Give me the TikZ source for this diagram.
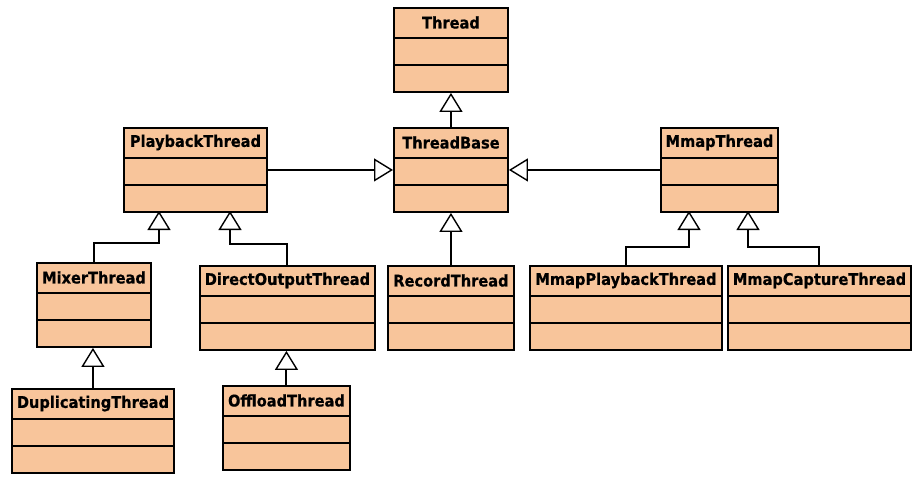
\documentclass[tikz,border=0pt]{standalone}
\usepackage{fontspec}
\setmainfont{DejaVu Sans}
\newfontfamily\hdrfont{DejaVu Sans Bold}[FakeBold=0.6]
\usetikzlibrary{arrows.meta,calc}
\definecolor{classfill}{HTML}{F8C59B}
\tikzset{
  classbox/.style={draw=black, fill=classfill, line width=1.9pt, rectangle, inner sep=0pt, anchor=north west, minimum height=84pt},
  classname/.style={font=\hdrfont\fontsize{14.6pt}{16pt}\selectfont, inner sep=0pt, anchor=center},
  divider/.style={draw=black, line width=1.5pt},
  inh/.style={draw=black, line width=2pt, -{Triangle[length=19pt, width=23pt, fill=white, line width=1.4pt]}},
}
\newcommand{\umlbox}[5]{%
  \node[classbox, minimum width=#4pt] (#1) at (#2,#3) {};
  \node[classname] (#1-name) at ($(#1.north)+(0pt,-15.5pt)$) {\scalebox{1}[1.1]{#5}};
  \draw[divider] ($(#1.north west)+(0pt,-31pt)$) -- ($(#1.north east)+(0pt,-31pt)$);
  \draw[divider] ($(#1.north west)+(0pt,-58pt)$) -- ($(#1.north east)+(0pt,-58pt)$);
}
\begin{document}
\begin{tikzpicture}[x=1pt, y=-1pt]
\useasboundingbox (0,0) rectangle (920,483);
\umlbox{thread}{393}{7}{114}{Thread}
\umlbox{threadbase}{393}{127}{114}{ThreadBase}
\umlbox{playback}{123}{127}{143}{PlaybackThread}
\umlbox{mmap}{660}{127}{117}{MmapThread}
\umlbox{mixer}{36}{262}{114}{MixerThread}
\umlbox{direct}{199}{265}{175}{DirectOutputThread}
\umlbox{record}{387}{265}{126}{RecordThread}
\umlbox{mmapplay}{529}{265}{192}{MmapPlaybackThread}
\umlbox{mmapcap}{727}{265}{183}{MmapCaptureThread}
\umlbox{dup}{11}{388}{162}{DuplicatingThread}
\umlbox{offload}{222}{385}{127}{OffloadThread}
% attachment points
\coordinate (pbA) at (159,211);
\coordinate (pbB) at (230,211);
\coordinate (mA) at (689,211);
\coordinate (mB) at (748,211);
% connectors
\draw[inh] (threadbase.north) -- (thread.south);
\draw[inh] (playback.east) -- (threadbase.west);
\draw[inh] (mmap.west) -- (threadbase.east);
\draw[inh] (record.north) -- (threadbase.south);
\draw[inh] (mixer.north) |- ([yshift=-32pt]pbA) -- (pbA);
\draw[inh] (direct.north) |- ([yshift=-33pt]pbB) -- (pbB);
\draw[inh] (mmapplay.north) |- ([yshift=-36pt]mA) -- (mA);
\draw[inh] (mmapcap.north) |- ([yshift=-36pt]mB) -- (mB);
\draw[inh] (dup.north) -- (dup.north |- mixer.south);
\draw[inh] (offload.north) -- (offload.north |- direct.south);
\end{tikzpicture}
\end{document}
